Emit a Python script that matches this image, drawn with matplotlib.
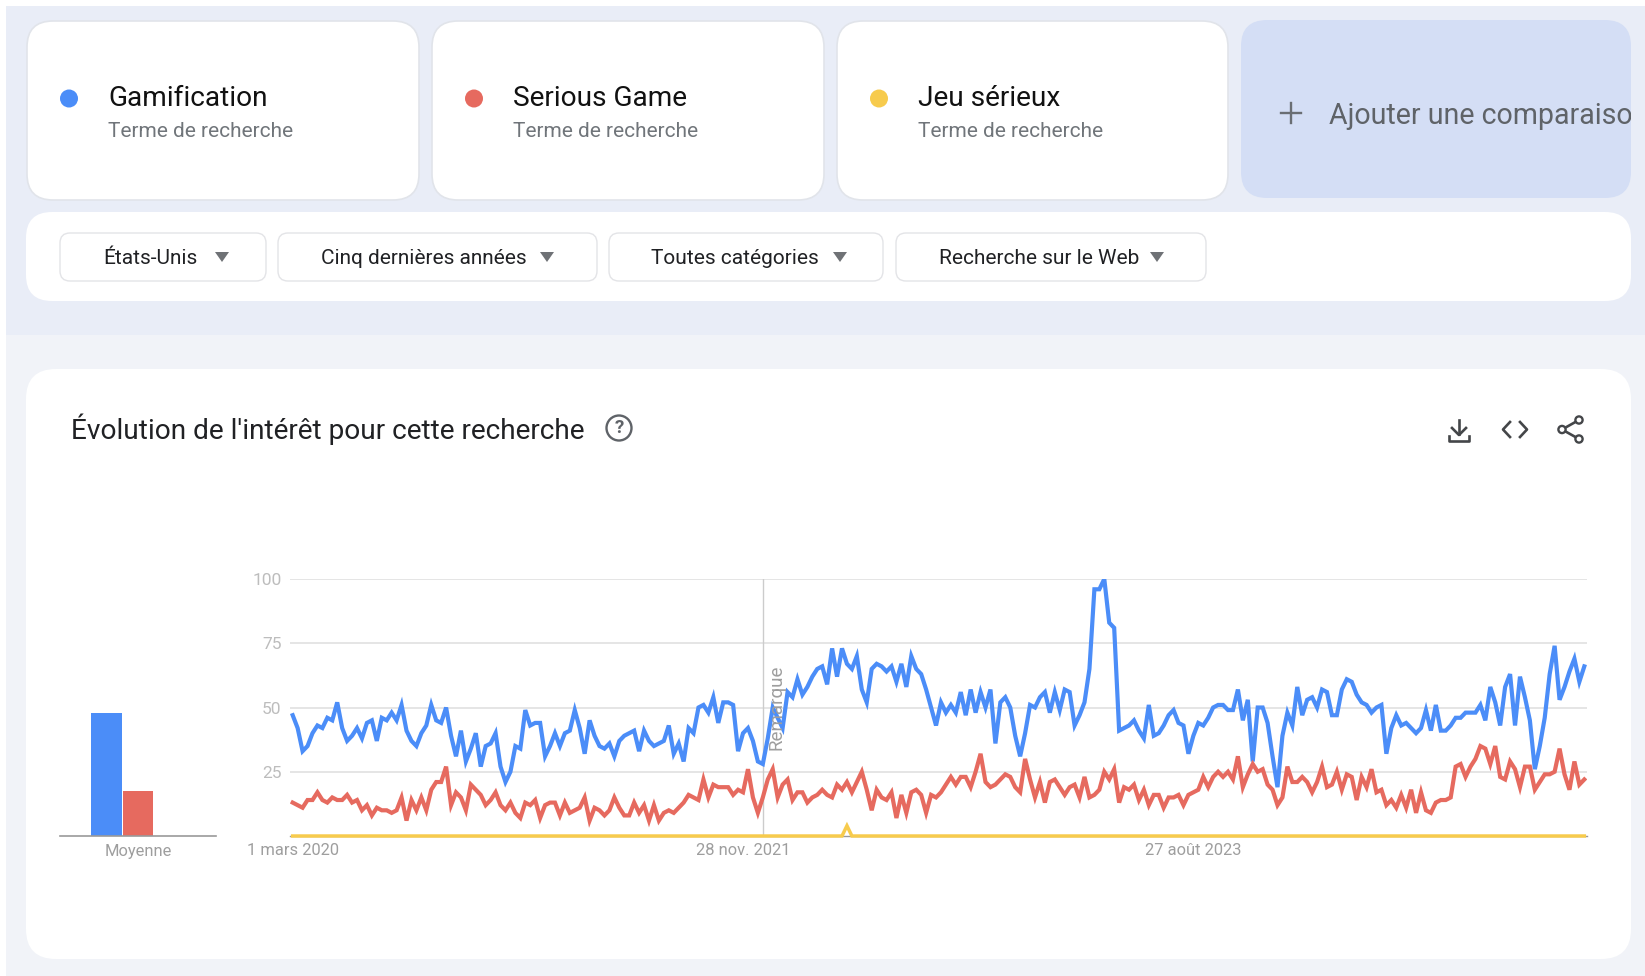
import matplotlib
matplotlib.use('Agg')
import matplotlib.pyplot as plt
import pandas as pd
from matplotlib.patches import FancyBboxPatch, Rectangle, Circle, Polygon

plt.rcParams['font.family'] = ['Roboto', 'DejaVu Sans']

# search terms and weekly values
terms = ['Gamification', 'Serious Game', 'Jeu sérieux']
subtitle = 'Terme de recherche'
filters = ['États-Unis', 'Cinq dernières années', 'Toutes catégories', 'Recherche sur le Web']
title = "Évolution de l'intérêt pour cette recherche"
add_label = 'Ajouter une comparaison'

gamification = [47, 42, 33, 35, 40, 43, 42, 46, 45, 52, 42, 37, 39, 42, 38, 44, 45, 37, 46, 45,
                48, 45, 51, 41, 37, 35, 40, 43, 51, 45, 44, 50, 39, 31, 41, 29, 34, 40, 27, 35,
                36, 40, 27, 21, 25, 35, 34, 49, 43, 44, 44, 31, 35, 40, 35, 40, 41, 49, 42, 32,
                45, 39, 35, 34, 36, 31, 37, 39, 40, 41, 33, 41, 37, 35, 36, 37, 43, 32, 36, 29,
                42, 40, 50, 51, 48, 54, 44, 52, 52, 51, 33, 40, 42, 37, 29, 28, 38, 50, 46, 42,
                56, 54, 61, 55, 58, 62, 65, 66, 59, 73, 62, 73, 67, 65, 70, 57, 52, 65, 67, 66,
                64, 66, 60, 67, 58, 70, 65, 63, 57, 50, 43, 52, 48, 51, 48, 56, 47, 57, 48, 56,
                50, 57, 36, 52, 54, 50, 39, 31, 40, 51, 50, 54, 56, 48, 56, 49, 57, 56, 43, 47,
                52, 65, 96, 96, 100, 83, 81, 41, 42, 43, 45, 41, 38, 51, 39, 40, 43, 47, 49, 44,
                43, 32, 39, 44, 43, 46, 50, 51, 51, 49, 49, 57, 45, 53, 29, 50, 50, 44, 31, 19,
                39, 48, 43, 58, 47, 53, 54, 50, 57, 56, 47, 47, 57, 61, 60, 55, 52, 51, 48, 50,
                51, 32, 42, 47, 43, 44, 42, 40, 42, 49, 41, 51, 41, 41, 43, 46, 46, 48, 48, 48,
                51, 45, 58, 52, 43, 58, 63, 43, 62, 54, 45, 26, 35, 46, 63, 74, 53, 58, 64, 69,
                60, 66]
serious_game = [13, 12, 11, 14, 14, 17, 14, 13, 15, 14, 14, 16, 13, 14, 10, 12, 8, 11, 10, 10,
                9, 10, 15, 6, 14, 10, 15, 10, 18, 21, 21, 27, 12, 17, 15, 10, 20, 18, 16, 12,
                14, 17, 12, 10, 13, 9, 7, 13, 12, 14, 7, 12, 13, 13, 8, 13, 9, 10, 11, 15,
                6, 11, 10, 8, 10, 15, 11, 8, 8, 13, 9, 12, 6, 12, 6, 9, 10, 9, 11, 13,
                16, 15, 14, 22, 15, 20, 19, 19, 19, 16, 18, 17, 26, 15, 9, 15, 22, 26, 15, 20,
                22, 14, 17, 17, 13, 15, 16, 18, 16, 15, 20, 18, 21, 17, 21, 25, 18, 10, 18, 15,
                14, 17, 7, 16, 9, 17, 18, 16, 9, 16, 15, 17, 20, 23, 20, 23, 23, 19, 25, 32,
                21, 19, 20, 22, 24, 23, 19, 17, 30, 22, 15, 21, 13, 21, 22, 19, 16, 19, 20, 15,
                23, 15, 16, 18, 25, 22, 26, 13, 19, 18, 20, 14, 18, 12, 16, 16, 11, 15, 15, 16,
                12, 16, 17, 18, 23, 19, 23, 25, 23, 25, 22, 31, 19, 24, 28, 25, 26, 20, 18, 12,
                15, 27, 21, 21, 23, 21, 17, 21, 27, 19, 20, 25, 18, 24, 23, 14, 23, 19, 26, 17,
                18, 12, 14, 11, 16, 11, 18, 9, 17, 10, 9, 13, 14, 14, 15, 27, 28, 23, 27, 30,
                35, 34, 28, 35, 23, 22, 29, 26, 19, 27, 27, 18, 21, 24, 24, 25, 34, 24, 18, 29,
                20, 22]
jeu_serieux = [0] * 112 + [4] + [0] * 149
mean_values = [48, 17.5, 0]
tick_dates = ['2020-03-01', '2021-11-28', '2023-08-27']
tick_names = ['1 mars 2020', '28 nov. 2021', '27 août 2023']
y_ticks = [25, 50, 75, 100]
note_date = '2021-12-26'
note_label = 'Remarque'

blue = '#4B8DF8'
red = '#E66A5F'
yellow = '#F7CB4D'
colors = [blue, red, yellow]

W, H = 1645, 976
fig = plt.figure(figsize=(W / 100, H / 100), dpi=100, facecolor='white')


def axes_px(left, top, right, bottom):
    # makes an axes from picture pixels (origin top left)
    return fig.add_axes([left / W, 1 - bottom / H, (right - left) / W, (bottom - top) / H])


def card(ax, x0, y0, x1, y1, radius, face='white', edge='none', lw=0):
    box = FancyBboxPatch((x0, y0), x1 - x0, y1 - y0, boxstyle='round,pad=0,rounding_size=%d' % radius,
                         fc=face, ec=edge, lw=lw)
    ax.add_patch(box)
    return box


# page: panels, cards, filter chips and icons in pixel coordinates
page = fig.add_axes([0, 0, 1, 1])
page.set_xlim(0, W)
page.set_ylim(H, 0)
page.axis('off')
page.add_patch(Rectangle((6, 6), W - 6, 329, fc='#E9EDF7', ec='none'))
page.add_patch(Rectangle((6, 335), W - 6, H - 335, fc='#F1F3F8', ec='none'))

card_x = [(27, 419), (432, 824), (837, 1228)]
for i in range(3):
    x0, x1 = card_x[i]
    card(page, x0, 21, x1, 200, 26, edge='#E1E4EA', lw=1.2)
    page.add_patch(Circle((x0 + 42, 98.5), 9, fc=colors[i], ec='none'))
    page.text(x0 + 81, 99, terms[i], fontsize=20.2, color='#111111', va='center', ha='left')
    page.text(x0 + 81, 131.5, subtitle, fontsize=15.05, color='#70757A', va='center', ha='left')

card(page, 1241, 20, 1631, 198, 26, face='#D4DEF5')
page.plot([1281, 1301], [113, 113], color='#6A6E73', lw=1.7)
page.plot([1291, 1291], [103, 123], color='#6A6E73', lw=1.7)
add_text = page.text(1329, 116, add_label, fontsize=20.6, color='#5F6368', va='center', ha='left')
add_text.set_clip_on(True)
add_text.set_clip_path(Rectangle((1241, 20), 390, 178, transform=page.transData))

card(page, 26, 212, 1631, 301, 26)
chip_x = [(60, 266), (278, 597), (609, 883), (896, 1206)]
text_x = [103, 321, 651, 939]
arrow_x = [222, 547, 840, 1157]
for i in range(4):
    card(page, chip_x[i][0], 233, chip_x[i][1], 281, 10, edge='#E3E4E7', lw=1.0)
    page.text(text_x[i], 258.5, filters[i], fontsize=15.0, color='#202124', va='center', ha='left')
    page.add_patch(Polygon([(arrow_x[i] - 7, 252), (arrow_x[i] + 7, 252), (arrow_x[i], 262)], fc='#6F7276', ec='none'))

card(page, 26, 369, 1631, 959, 30)
page.text(71, 429, title, fontsize=20.2, color='#202124', va='center', ha='left')
page.add_patch(Circle((619, 428), 12.5, fc='none', ec='#5F6368', lw=1.7))
page.text(619, 428, '?', fontsize=13.5, color='#5F6368', va='center', ha='center', fontweight='bold')

icon = '#444649'
page.plot([1459, 1459], [420, 434], color=icon, lw=1.9)
page.plot([1452, 1459, 1466], [428, 435, 428], color=icon, lw=1.9)
page.plot([1449, 1449, 1469, 1469], [436, 441, 441, 436], color=icon, lw=1.9)
page.plot([1510, 1503, 1510], [422, 429.5, 437], color=icon, lw=1.9)
page.plot([1520, 1527, 1520], [422, 429.5, 437], color=icon, lw=1.9)
page.plot([1579, 1562, 1579], [420, 429.5, 439], color=icon, lw=1.9)
for cx, cy in [(1579, 420), (1562, 429.5), (1579, 439)]:
    page.add_patch(Circle((cx, cy), 3.6, fc='white', ec=icon, lw=1.7, zorder=3))

# weekly chart
dates = pd.date_range('2020-03-01', periods=len(gamification), freq='7D')
ax = axes_px(290, 579, 1587, 836)
ax.patch.set_alpha(0)
ax.set_ylim(0, 100)
margin = pd.Timedelta(days=3.8)
ax.set_xlim(dates[0] - margin, dates[-1] + margin)
for side in ['top', 'left', 'right']:
    ax.spines[side].set_visible(False)
ax.spines['bottom'].set_color('#9A9A9A')
ax.spines['bottom'].set_linewidth(1)
ax.spines['bottom'].set_zorder(1)
ax.set_yticks(y_ticks)
ax.set_yticklabels([str(v) for v in y_ticks], fontsize=12.5, color='#BDBDBD')
ax.set_xticks(pd.to_datetime(tick_dates))
ax.set_xticklabels(tick_names, fontsize=11.9, color='#9E9E9E')
ax.tick_params(axis='both', length=0)
ax.tick_params(axis='x', pad=5)
ax.tick_params(axis='y', pad=6)
ax.grid(axis='y', color='#E3E3E3', lw=1.3)
ax.set_axisbelow(True)

note_day = pd.Timestamp(note_date)
ax.axvline(note_day, color='#CCCCCC', lw=1)
ax.plot(dates, gamification, color=blue, lw=3.0, solid_joinstyle='miter')
ax.plot(dates, serious_game, color=red, lw=3.0, solid_joinstyle='miter')
ax.plot(dates, jeu_serieux, color=yellow, lw=2.5, solid_joinstyle='miter', clip_on=False, zorder=3)
ax.annotate(note_label, (note_day, 50), xytext=(9.5, 0), textcoords='offset points', rotation=90,
            fontsize=13.5, color='#9E9E9E', va='center', ha='center')

# average bars, same vertical scale as the weekly chart
bar_ax = axes_px(60, 579, 216, 836)
bar_ax.patch.set_alpha(0)
bar_ax.set_ylim(0, 100)
bar_ax.set_xlim(-2.48, 2.48)
bar_ax.bar([-1, 0, 1], mean_values, width=0.97, color=colors)
for side in ['top', 'left', 'right']:
    bar_ax.spines[side].set_visible(False)
bar_ax.spines['bottom'].set_color('#9A9A9A')
bar_ax.spines['bottom'].set_linewidth(1.2)
bar_ax.set_yticks([])
bar_ax.set_xticks([0])
bar_ax.set_xticklabels(['Moyenne'], fontsize=11.9, color='#9E9E9E')
bar_ax.tick_params(axis='x', length=0, pad=5.5)

fig.savefig('out.png', dpi=100, facecolor='white')
